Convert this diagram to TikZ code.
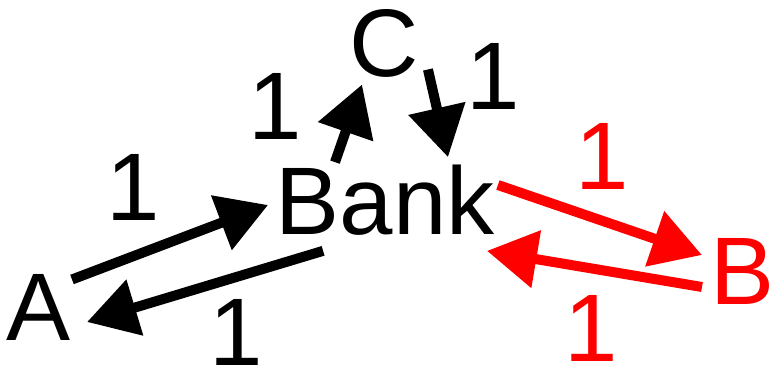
\documentclass[tikz,border=0pt]{standalone}
\usepackage{fontspec}
\setmainfont{Liberation Sans}
\usetikzlibrary{arrows.meta}
\definecolor{flink}{HTML}{000000}
\definecolor{flred}{HTML}{FF0000}
\tikzset{
  fl text/.style={font=\fontsize{96}{96}\selectfont, text=flink},
  fl node/.style={inner sep=0pt, outer sep=0pt, font=\fontsize{96}{96}\selectfont},
  fl label/.style={inner sep=0pt, outer sep=0pt, font=\fontsize{96}{96}\selectfont},
  fl arrow/.style={-{Triangle[length=50pt,width=56pt]}, line width=10pt,
    draw=flink, line cap=butt}
}

\begin{document}
\begin{tikzpicture}[fl text, x=1pt, y=1pt]
  \useasboundingbox (0,0) rectangle (775,365);
  \node[fl node] (A) at (38.5,57.5) {A};
  \node[fl node] (bank) at (385,165) {Bank};
  \node[fl node] (C) at (384,321.5) {C};
  \node[fl node, text=flred] (B) at (743,93.5) {B};
  % black flows
  \draw[fl arrow] ([shift={(1.5,-5)}]A.north east) -- ([shift={(-7.5,-5)}]bank.west);
  \draw[fl arrow] ([shift={(47.5,-15.6)}]bank.south west) -- ([shift={(16.5,-14.5)}]A.east);
  \draw[fl arrow] ([shift={(-50,2.6)}]bank.north) -- ([shift={(-22,-7)}]C.south);
  \draw[fl arrow] ([shift={(9.3,8)}]C.south east) -- ([shift={(63,7.6)}]bank.north);
  % red flows
  \draw[fl arrow, draw=flred] ([shift={(3.5,15)}]bank.east) -- ([shift={(-9,16.5)}]B.west);
  \draw[fl arrow, draw=flred] ([shift={(-9,-15.5)}]B.west) -- ([shift={(-7.5,-15.6)}]bank.south east);
  \node[fl label] (lab1) at (133,177.5) {1};
  \node[fl label] (lab2) at (236,33) {1};
  \node[fl label] (lab3) at (275,258.5) {1};
  \node[fl label] (lab4) at (493,289) {1};
  \node[fl label, text=flred] (lab5) at (602,208.5) {1};
  \node[fl label, text=flred] (lab6) at (591,37) {1};
\end{tikzpicture}
\end{document}
